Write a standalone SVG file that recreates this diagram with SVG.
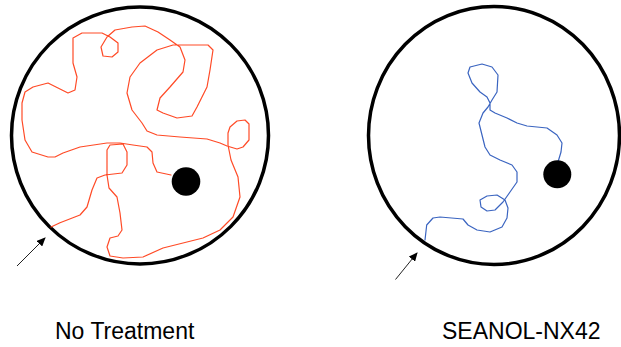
<svg xmlns="http://www.w3.org/2000/svg" width="621" height="347" viewBox="0 0 621 347">
<style>
.dish{fill:none;stroke:#000;stroke-width:3.5}
.dot{fill:#000}
.path{fill:none;stroke-width:1.2;stroke-linejoin:round;stroke-linecap:round}
.red{stroke:#ff4a26}
.blue{stroke:#3a64c0}
.arrow{stroke:#222;stroke-width:1;fill:none}
.label{font-family:"Liberation Sans",Arial,sans-serif;font-size:23px;fill:#000}
</style>
<defs>
<marker id="ah" markerWidth="9" markerHeight="8" refX="8" refY="4" orient="auto" markerUnits="userSpaceOnUse">
<path d="M0,0 L9,4 L0,8 Z" fill="#000"/>
</marker>
</defs>
<rect width="621" height="347" fill="#fff"/>
<g id="no-treatment">
<circle class="dish" cx="140" cy="135.5" r="128.5"/>
<polyline class="path red" points="51,227 60,222.7 80,215 87,207 92,190 97,178 105,175 122,173 127,165 127,152 123,144 110,145 107,150 107,175 109,188 117,197 120,213 122,230 118,236 110,238 107,247 110,256 123,258 143,257 163,248 203,238 220,230 233,217 240,197 238,177 231,160 228,145 228,133 230,127 237,121 245,120 249,124 249,140 243,147 237,149 227,146 220,143 207,139 180,137 157,135 147,131 142,123 132,110 127,93 130,77 140,63 157,50 173,45 190,45 208,45 213,50 210,70 207,87 197,107 192,116 177,118 163,113 157,110 160,98 170,87 183,72 185,60 180,47 170,40 158,32 145,26 132,27 115,30 107,37 101,47 103,56 112,57 118,52 118,43 110,37 102,33 82,33 73,38 73,63 77,77 75,90 68,93 62,90 48,83 33,87 25,92 22,103 22,120 25,140 32,152 48,157 55,157 63,153 80,147 107,143 120,143 133,145 147,147 152,152 153,163 157,172 171,175"/>
<circle class="dot" cx="186" cy="181.5" r="14.3"/>
<text class="label" x="55" y="339">No Treatment</text>
</g>
<g id="seanol">
<ellipse class="dish" cx="494" cy="135.5" rx="125.5" ry="129"/>
<polyline class="path blue" points="425,240 426.7,225 433,218 440,217 463,219 468,225 477,230 490,232 502,227 507,218 508,208 505,200 497,195 487,196 480,200 481,207 487,211 495,210 503,202 510,192 517,182 517,172 512,165 500,160 490,155 485,147 482,135 479,123 483,113 488,107 492,100 497,92 498,75 492,67 482,64 470,67 468,73 472,83 480,92 487,97 490,103 490,110 495,113 507,118 517,123 527,126 547,128 557,135 562,143 561,152 558,162"/>
<circle class="dot" cx="557.3" cy="174.3" r="14"/>
<text class="label" x="442" y="339">SEANOL-NX42</text>
</g>
<g id="connectors">
<line class="arrow" x1="17" y1="266" x2="45" y2="238" marker-end="url(#ah)"/>
<line class="arrow" x1="395.5" y1="279.5" x2="417" y2="253" marker-end="url(#ah)"/>
</g>
</svg>
